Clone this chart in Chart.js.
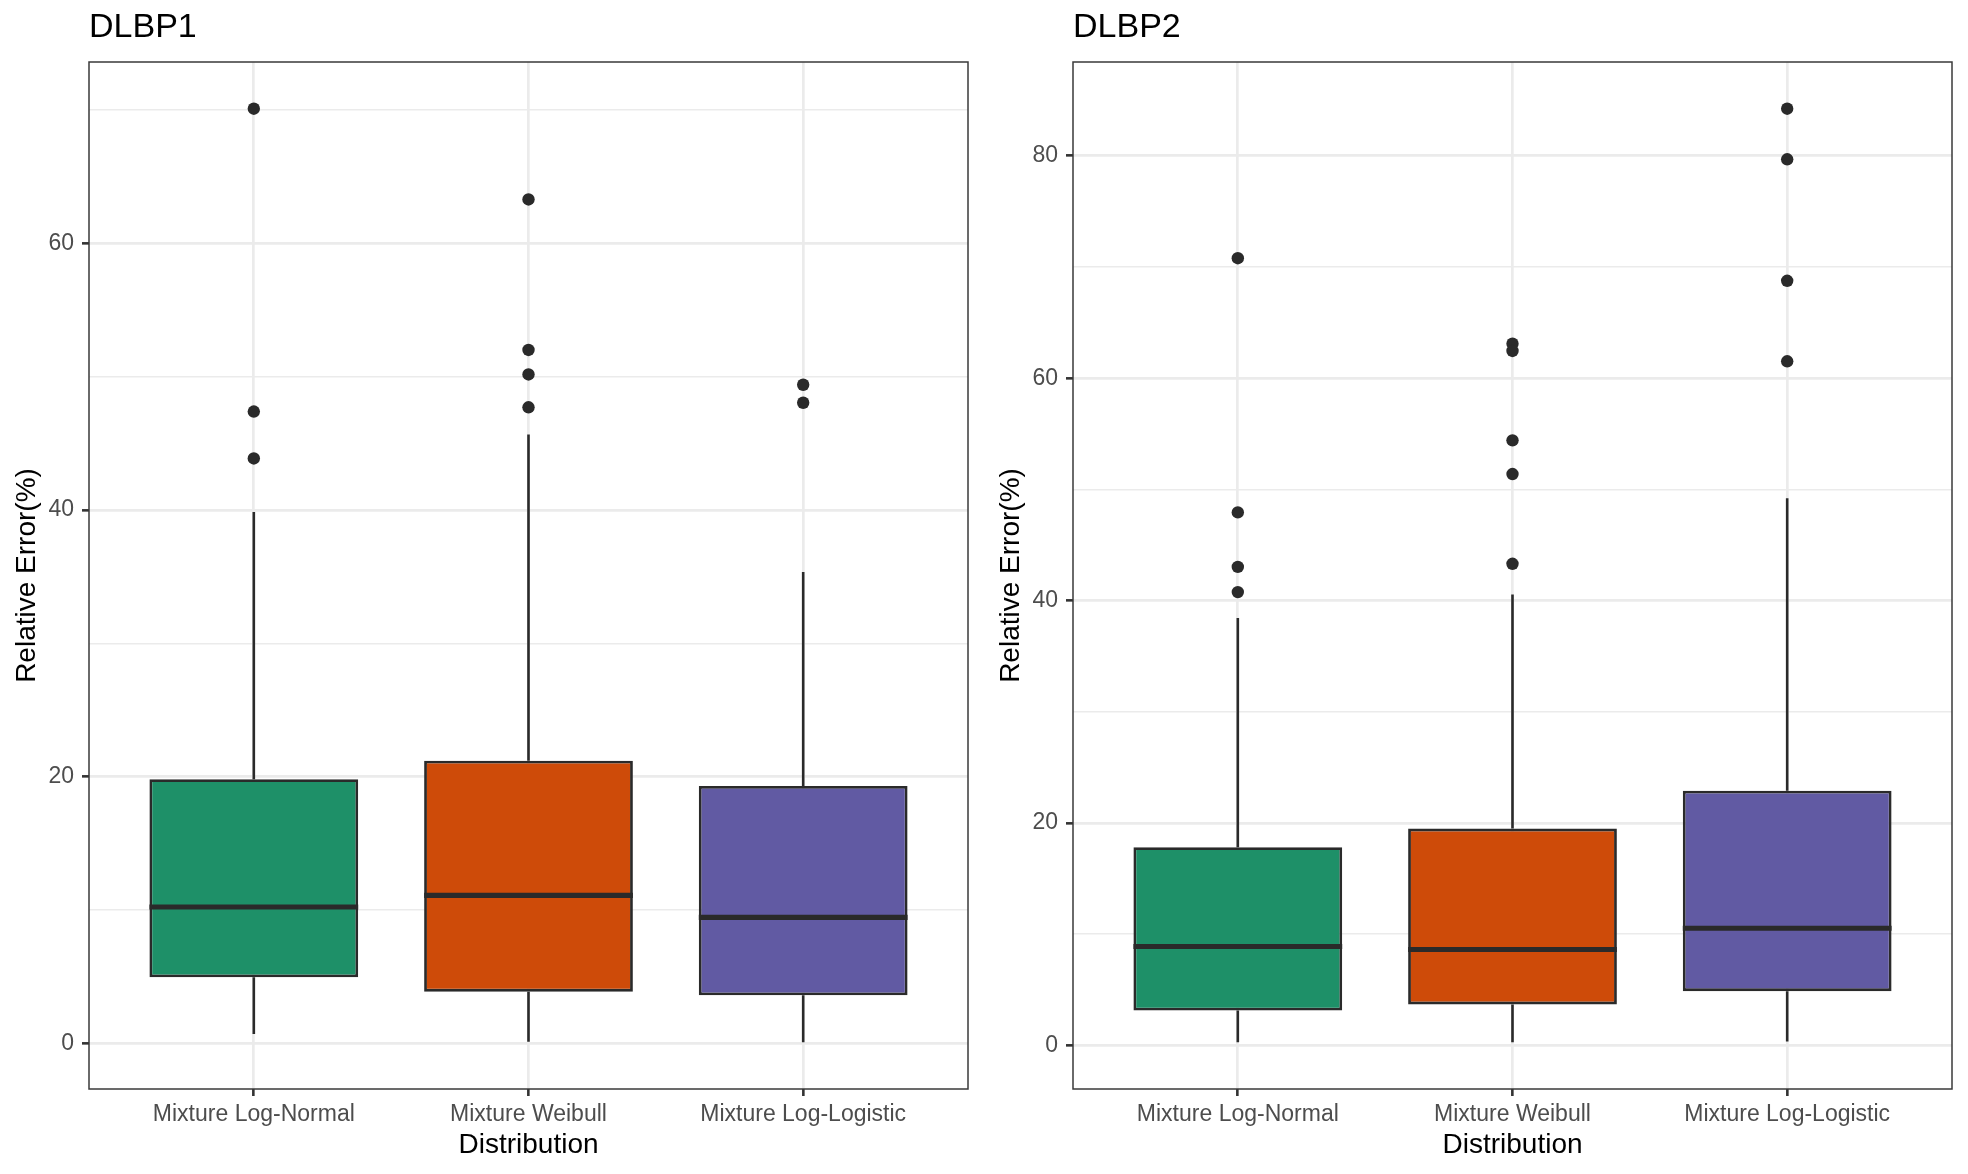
<!DOCTYPE html>
<html>
<head>
<meta charset="utf-8">
<script src="https://cdn.jsdelivr.net/npm/chart.js@4.4.1/dist/chart.umd.min.js"></script>
<style>
  html, body { margin: 0; padding: 0; background: #ffffff; }
  #wrap { display: flex; width: 1968px; height: 1174px; }
  .panel { width: 984px; height: 1174px; }
  canvas { display: block; }
</style>
</head>
<body>
<div id="wrap">
  <div class="panel"><canvas id="c1" width="984" height="1174"></canvas></div>
  <div class="panel"><canvas id="c2" width="984" height="1174"></canvas></div>
</div>
<script>
// ---------- data ----------
const categories = ['Mixture Log-Normal', 'Mixture Weibull', 'Mixture Log-Logistic'];
const fillColors = ['#1E9068', '#CE4B09', '#615AA3'];

// DLBP1
const dlbp1Low    = [0.7, 0.12, 0.07];
const dlbp1Q1     = [4.95, 3.87, 3.6];
const dlbp1Median = [10.22, 11.1, 9.44];
const dlbp1Q3     = [19.8, 21.2, 19.3];
const dlbp1High   = [39.85, 45.67, 35.36];
const dlbp1OutLN  = [70.11, 47.39, 43.87];
const dlbp1OutW   = [63.3, 52.01, 50.17, 47.71];
const dlbp1OutLL  = [49.4, 48.05];
const dlbp1MajorTicks = [0, 20, 40, 60];
const dlbp1MinorTicks = [10, 30, 50, 70];

// DLBP2
const dlbp2Low    = [0.27, 0.27, 0.34];
const dlbp2Q1     = [3.13, 3.68, 4.87];
const dlbp2Median = [8.89, 8.62, 10.53];
const dlbp2Q3     = [17.82, 19.49, 22.9];
const dlbp2High   = [38.43, 40.55, 49.2];
const dlbp2OutLN  = [70.79, 47.93, 43.03, 40.76];
const dlbp2OutW   = [63.1, 62.45, 54.41, 51.38, 43.31];
const dlbp2OutLL  = [84.24, 79.69, 68.76, 61.52];
const dlbp2MajorTicks = [0, 20, 40, 60, 80];
const dlbp2MinorTicks = [10, 30, 50, 70];

// ---------- styling ----------
const FONT = "'Liberation Sans', Arial, Helvetica, sans-serif";
Chart.defaults.font.family = FONT;
const INK = '#2A2A2A';
const GRID = '#EBEBEB';

function makeChart(canvasId, titleText, low, q1, med, q3, high, outliers, majorTicks, minorTicks) {
  const allVals = low.concat(high, ...outliers);
  const dMin = Math.min(...allVals), dMax = Math.max(...allVals);
  const expand = (dMax - dMin) * 0.05;

  const boxData = categories.map((c, i) => ({ x: i + 1, y: [q1[i], q3[i]] }));
  const outlierData = [];
  outliers.forEach((arr, i) => arr.forEach(v => outlierData.push({ x: i + 1, y: v })));

  const boxParts = {
    id: 'boxParts',
    beforeDatasetsDraw(chart) {
      const meta = chart.getDatasetMeta(0);
      const ys = chart.scales.y;
      const ctx = chart.ctx;
      ctx.save();
      ctx.strokeStyle = INK;
      ctx.lineWidth = 2.6;
      meta.data.forEach((el, i) => {
        ctx.beginPath();
        ctx.moveTo(el.x, ys.getPixelForValue(high[i]));
        ctx.lineTo(el.x, ys.getPixelForValue(q3[i]));
        ctx.moveTo(el.x, ys.getPixelForValue(q1[i]));
        ctx.lineTo(el.x, ys.getPixelForValue(low[i]));
        ctx.stroke();
      });
      ctx.restore();
    },
    afterDatasetsDraw(chart) {
      const meta = chart.getDatasetMeta(0);
      const ys = chart.scales.y;
      const ctx = chart.ctx;
      ctx.save();
      ctx.strokeStyle = INK;
      ctx.lineWidth = 5.2;
      meta.data.forEach((el, i) => {
        const y = ys.getPixelForValue(med[i]);
        ctx.beginPath();
        ctx.moveTo(el.x - el.width / 2, y);
        ctx.lineTo(el.x + el.width / 2, y);
        ctx.stroke();
      });
      ctx.restore();
    },
    afterDraw(chart) {
      const a = chart.chartArea;
      const ctx = chart.ctx;
      ctx.save();
      ctx.strokeStyle = '#3A3A3A';
      ctx.lineWidth = 1.5;
      ctx.strokeRect(a.left, a.top, a.right - a.left, a.bottom - a.top);
      ctx.restore();
    }
  };

  const isMajor = (v) => majorTicks.includes(v);

  return new Chart(document.getElementById(canvasId), {
    type: 'bar',
    data: {
      datasets: [
        {
          type: 'bar',
          data: boxData,
          backgroundColor: fillColors,
          borderColor: INK,
          borderWidth: 2.8,
          borderSkipped: false,
          barPercentage: 0.76,
          categoryPercentage: 1.0,
          order: 2
        },
        {
          type: 'scatter',
          data: outlierData,
          pointRadius: 6.2,
          pointBackgroundColor: INK,
          pointBorderWidth: 0,
          order: 1
        }
      ]
    },
    options: {
      responsive: false,
      animation: false,
      events: [],
      layout: { padding: { left: 0, right: 16, top: 0, bottom: 0 } },
      plugins: {
        legend: { display: false },
        tooltip: { enabled: false },
        title: {
          display: true,
          text: titleText,
          align: 'start',
          fullSize: false,
          color: '#000000',
          font: { size: 34, weight: 'normal', family: FONT },
          padding: { top: 6.8, bottom: 14.4 }
        }
      },
      scales: {
        x: {
          type: 'linear',
          offset: false,
          min: 1 - 0.6,
          max: categories.length + 0.6,
          afterBuildTicks: (scale) => { scale.ticks = categories.map((c, i) => ({ value: i + 1 })); },
          afterFit: (scale) => { scale.height = 85; },
          border: { display: false },
          grid: {
            offset: false,
            color: GRID,
            lineWidth: 2.7,
            drawTicks: true,
            tickLength: 7,
            tickColor: '#333333',
            tickWidth: 2.6
          },
          ticks: {
            autoSkip: false,
            maxRotation: 0,
            minRotation: 0,
            padding: 4.5,
            color: '#4D4D4D',
            font: { size: 23, family: FONT },
            callback: (v) => categories[Math.round(v) - 1] ?? ''
          },
          title: {
            display: true,
            text: 'Distribution',
            color: '#000000',
            font: { size: 28, family: FONT },
            padding: { top: 0, bottom: 12 }
          }
        },
        y: {
          type: 'linear',
          min: dMin - expand,
          max: dMax + expand,
          afterBuildTicks: (scale) => {
            scale.ticks = majorTicks.concat(minorTicks)
              .filter(v => v >= scale.min && v <= scale.max)
              .sort((a, b) => a - b)
              .map(v => ({ value: v }));
          },
          afterFit: (scale) => { scale.width = 89; },
          border: { display: false },
          grid: {
            color: GRID,
            lineWidth: (ctx) => (ctx.tick && isMajor(ctx.tick.value)) ? 2.7 : 1.4,
            drawTicks: true,
            tickLength: 7,
            tickColor: (ctx) => (ctx.tick && isMajor(ctx.tick.value)) ? '#333333' : 'rgba(0,0,0,0)',
            tickWidth: 2.6
          },
          ticks: {
            autoSkip: false,
            padding: 8,
            color: '#4D4D4D',
            font: { size: 23, family: FONT },
            callback: (v) => isMajor(v) ? String(v) : ''
          },
          title: {
            display: true,
            text: 'Relative Error(%)',
            color: '#000000',
            font: { size: 28, family: FONT },
            padding: { top: 10.2, bottom: 0 }
          }
        }
      }
    },
    plugins: [boxParts]
  });
}

makeChart('c1', 'DLBP1', dlbp1Low, dlbp1Q1, dlbp1Median, dlbp1Q3, dlbp1High,
  [dlbp1OutLN, dlbp1OutW, dlbp1OutLL], dlbp1MajorTicks, dlbp1MinorTicks);
makeChart('c2', 'DLBP2', dlbp2Low, dlbp2Q1, dlbp2Median, dlbp2Q3, dlbp2High,
  [dlbp2OutLN, dlbp2OutW, dlbp2OutLL], dlbp2MajorTicks, dlbp2MinorTicks);
</script>
</body>
</html>
